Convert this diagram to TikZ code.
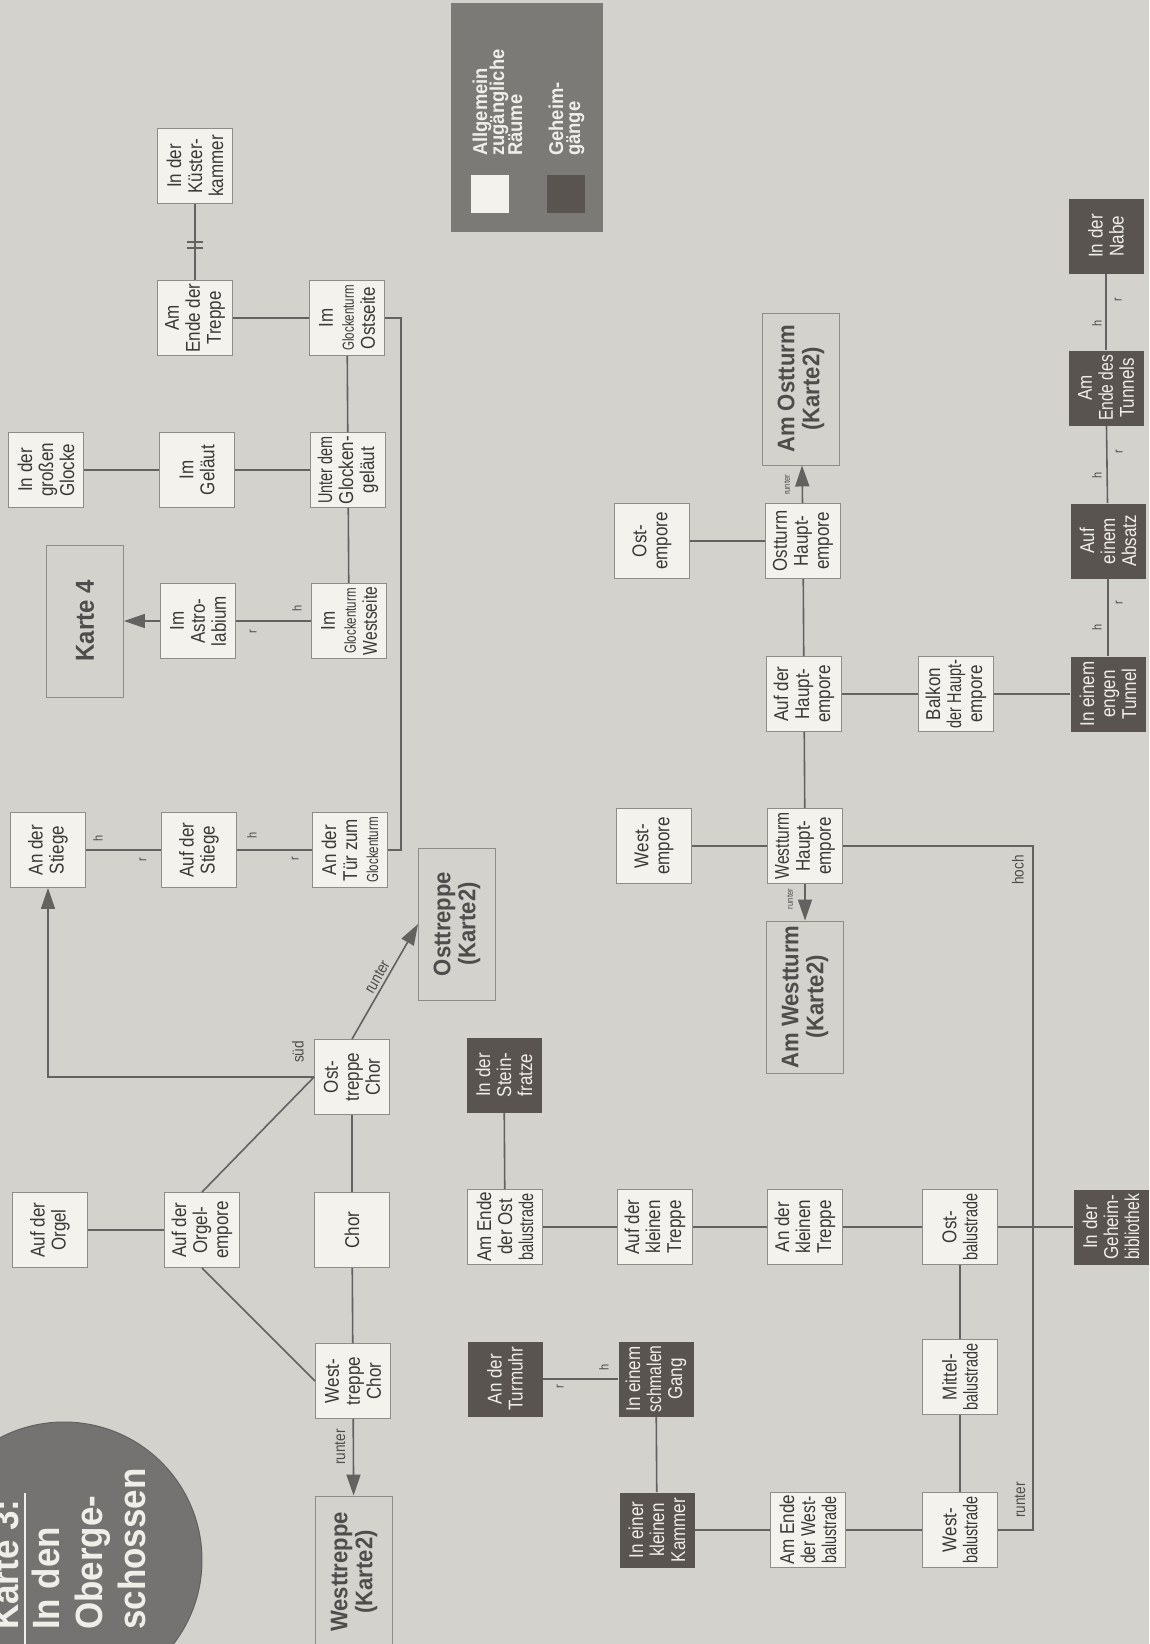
\documentclass[tikz,border=0pt]{standalone}
\usepackage{fontspec}
\setmainfont{Liberation Sans}[FakeStretch=0.85]
\newfontfamily\sqz{Liberation Sans}[FakeStretch=0.72]
\newfontfamily\sqa{Liberation Sans}[FakeStretch=0.78]
\newfontfamily\bld{Liberation Sans}[FakeStretch=0.92]
\usetikzlibrary{arrows.meta}
\definecolor{bg}{HTML}{D3D2CD}
\definecolor{boxfill}{HTML}{F4F2EC}
\definecolor{boxline}{HTML}{8E8D89}
\definecolor{darkfill}{HTML}{59544F}
\definecolor{darktext}{HTML}{F0EEE8}
\definecolor{conn}{HTML}{636261}
\definecolor{labtext}{HTML}{4E4D4B}
\definecolor{roomtext}{HTML}{3A3938}
\definecolor{legfill}{HTML}{7B7A77}
\definecolor{circfill}{HTML}{757371}
\tikzset{
 room/.style={draw=boxline, line width=0.9pt, fill=boxfill, rotate=90, minimum width=75pt, minimum height=75pt, inner sep=0pt, align=center, font=\fontsize{20}{21}\selectfont, text=roomtext},
 secret/.style={room, fill=darkfill, draw=none, text=darktext},
 mapref/.style={draw=boxline, line width=0.9pt, rotate=90, minimum width=152pt, minimum height=77pt, inner sep=0pt, align=center, font=\bld\bfseries\fontsize{24}{25}\selectfont, text=labtext},
 link/.style={draw=conn, line width=1.6pt},
 arr/.style={link, -{Triangle[length=21pt,width=14pt]}},
 hr/.style={rotate=90, font=\fontsize{13}{13}\selectfont, text=labtext, inner sep=0pt},
 lbl/.style={rotate=90, font=\fontsize{16}{16}\selectfont, text=labtext, inner sep=0pt},
 tiny/.style={rotate=90, font=\fontsize{9}{9}\selectfont, text=labtext, inner sep=0pt},
 titletxt/.style={rotate=90, anchor=base west, inner sep=0pt, font=\bld\bfseries\fontsize{38}{40}\selectfont, text=darktext},
 legtxt/.style={rotate=90, anchor=base west, inner sep=0pt, font=\bld\bfseries\fontsize{20}{18}\selectfont, text=darktext},
}
\newcommand{\gt}{{\sqz\fontsize{16}{14}\selectfont Glockenturm}}
\begin{document}
\begin{tikzpicture}[x=1pt,y=-1pt]
\useasboundingbox (0,0) rectangle (1149,1644);
\clip (0,0) rectangle (1149,1644);
\fill[bg] (0,0) rectangle (1149,1644);

% title circle
\filldraw[fill=circfill, draw=circfill!85!black, line width=1pt] (64,1560) circle (138pt);
\node[titletxt] (t1) at (18,1630) {Karte 3:};
\node[titletxt] (t2) at (59,1630) {In den};
\node[titletxt] (t3) at (102,1630) {Oberge-};
\node[titletxt] (t4) at (145,1630) {schossen};
\draw[darktext, line width=2.2pt] (25,1493) -- (25,1650);

% legend
\fill[legfill] (451,3) rectangle (603,232);
\fill[boxfill] (471,175) rectangle (509,213);
\fill[darkfill] (547,175) rectangle (585,213);
\node[legtxt] (l1) at (487,156) {Allgemein};
\node[legtxt] (l2) at (504,156) {zugängliche};
\node[legtxt] (l3) at (522,156) {Räume};
\node[legtxt] (l4) at (563,156) {Geheim-};
\node[legtxt] (l5) at (580,156) {gänge};

% rooms, left part
\node[room] (kuester) at (195,166) {In der\\Küster-\\kammer};
\node[room] (endetreppe) at (195,318) {Am\\Ende der\\Treppe};
\node[room] (ostseite) at (347,318) {Im\\\gt\\Ostseite};
\node[room] (glocke) at (46,470) {In der\\großen\\Glocke};
\node[room] (gelaeut) at (197,470) {Im\\Geläut};
\node[room] (unterdem) at (348,470) {{\sqz Unter dem}\\Glocken-\\geläut};
\node[mapref, font=\bld\bfseries\fontsize{26}{27}\selectfont] (karte4) at (85,621) {Karte 4};
\node[room] (astro) at (198,621) {Im\\Astro-\\labium};
\node[room] (westseite) at (349,621) {Im\\\gt\\{\sqa Westseite}};
\node[room] (anstiege) at (48,850) {An der\\Stiege};
\node[room] (aufstiege) at (199,850) {Auf der\\Stiege};
\node[room] (antuer) at (350,850) {An der\\Tür zum\\\gt};
\node[mapref] (osttreppek) at (457,924) {Osttreppe\\(Karte2)};
\node[room] (osttreppechor) at (352,1077) {Ost-\\treppe\\Chor};
\node[room] (aufderorgel) at (50,1230) {Auf der\\Orgel};
\node[room] (orgelempore) at (202,1230) {Auf der\\Orgel-\\empore};
\node[room] (chor) at (352,1230) {Chor};
\node[room] (westtreppechor) at (353,1381) {West-\\treppe\\Chor};
\node[mapref] (westtreppek) at (354,1572) {Westtreppe\\(Karte2)};

% middle part
\node[secret] (steinfratze) at (504,1075) {In der\\Stein-\\fratze};
\node[room] (endeost) at (505,1227) {Am Ende\\der Ost\\{\sqz balustrade}};
\node[secret] (turmuhr) at (505,1379) {An der\\Turmuhr};
\node[secret] (schmal) at (656,1379) {In einem\\{\sqa schmalen}\\Gang};
\node[secret] (kammer) at (657,1530) {In einer\\kleinen\\Kammer};
\node[room] (kltreppe1) at (655,1227) {Auf der\\kleinen\\Treppe};
\node[room] (westempore) at (654,846) {West-\\empore};
\node[room] (ostempore) at (652,541) {Ost-\\empore};

% right part
\node[mapref] (ostturmk) at (801,389) {Am Ostturm\\(Karte2)};
\node[room] (ostturmhe) at (803,541) {Ostturm\\Haupt-\\empore};
\node[room] (aufhe) at (804,694) {Auf der\\Haupt-\\empore};
\node[room] (westturmhe) at (805,846) {{\sqa Westturm}\\Haupt-\\empore};
\node[mapref] (westturmk) at (805,997) {Am Westturm\\(Karte2)};
\node[room] (kltreppe2) at (805,1227) {An der\\kleinen\\Treppe};
\node[room] (endewest) at (808,1530) {Am Ende\\{\sqa der West-}\\{\sqz balustrade}};
\node[room] (balkon) at (956,694) {Balkon\\{\sqz der Haupt-}\\empore};
\node[room] (ostbal) at (960,1227) {Ost-\\{\sqz balustrade}};
\node[room] (mittelbal) at (960,1377) {Mittel-\\{\sqz balustrade}};
\node[room] (westbal) at (960,1530) {West-\\{\sqz balustrade}};
\node[secret] (tunnel) at (1108,694) {In einem\\engen\\Tunnel};
\node[secret] (absatz) at (1108,541) {Auf\\einem\\Absatz};
\node[secret] (endetunnel) at (1106,388) {Am\\{\sqa Ende des}\\Tunnels};
\node[secret] (nabe) at (1106,236) {In der\\Nabe};
\node[secret] (geheimbib) at (1111,1227) {In der\\Geheim-\\{\sqa bibliothek}};

% connectors, top-left
\draw[link] (kuester) -- (endetreppe);
\draw[conn, line width=1.4pt] (187,242) -- (203,242) (187,248) -- (203,248);
\draw[link] (endetreppe) -- (ostseite);
\draw[link] (ostseite) -- (unterdem);
\draw[link] (glocke) -- (gelaeut);
\draw[link] (gelaeut) -- (unterdem);
\draw[link] (unterdem) -- (westseite);
\draw[link] (westseite) -- (astro);
\draw[arr] (astro) -- (karte4);
\draw[link] (ostseite.south) -- ++(16,0) |- (antuer.south);
\draw[link] (anstiege) -- (aufstiege);
\draw[link] (aufstiege) -- (antuer);
\draw[arr] (osttreppechor.north) -| (anstiege.west);
\draw[link] (osttreppechor.north) -- (orgelempore.east);
\draw[arr] (osttreppechor.east) -- node[midway, sloped, above, inner sep=3pt, font=\fontsize{16}{16}\selectfont, text=labtext] {runter} (osttreppek.north);
\draw[link] (osttreppechor) -- (chor);
\draw[link] (chor) -- (westtreppechor);
\draw[link] (aufderorgel) -- (orgelempore);
\draw[link] (orgelempore.west) -- (westtreppechor.north);
\draw[arr] (westtreppechor) -- (westtreppek);

% connectors, middle
\draw[link] (steinfratze) -- (endeost);
\draw[link] (endeost) -- (kltreppe1);
\draw[link] (kltreppe1) -- (kltreppe2);
\draw[link] (kltreppe2) -- (ostbal);
\draw[link] (ostbal) -- (geheimbib);
\draw[link] (turmuhr) -- (schmal);
\draw[link] (schmal) -- (kammer);
\draw[link] (kammer) -- (endewest);
\draw[link] (endewest) -- (westbal);
\draw[link] (ostbal) -- (mittelbal);
\draw[link] (mittelbal) -- (westbal);
\draw[link] (westturmhe.south) -- ++(190,0) |- (westbal.south);
\draw[link] (westempore) -- (westturmhe);
\draw[arr] (westturmhe) -- (westturmk);
\draw[link] (westturmhe) -- (aufhe);
\draw[link] (aufhe) -- (ostturmhe);
\draw[arr] (ostturmhe) -- (ostturmk);
\draw[link] (ostempore) -- (ostturmhe);
\draw[link] (aufhe) -- (balkon);
\draw[link] (balkon) -- (tunnel);
\draw[link] (tunnel) -- (absatz);
\draw[link] (absatz) -- (endetunnel);
\draw[link] (endetunnel) -- (nabe);

% connector labels
\node[hr] (h1) at (1097,627) {h};
\node[hr] (r1) at (1119,603) {r};
\node[hr] (h2) at (1097,475) {h};
\node[hr] (r2) at (1119,452) {r};
\node[hr] (h3) at (1097,323) {h};
\node[hr] (r3) at (1118,300) {r};
\node[hr] (h4) at (98,838) {h};
\node[hr] (r4) at (143,860) {r};
\node[hr] (h5) at (252,835) {h};
\node[hr] (r5) at (295,859) {r};
\node[hr] (h6) at (297,608) {h};
\node[hr] (r6) at (253,632) {r};
\node[hr] (h7) at (604,1367) {h};
\node[hr] (r7) at (560,1387) {r};
\node[lbl] (sued) at (298,1052) {süd};
\node[lbl] (hoch) at (1018,870) {hoch};
\node[lbl] (runter1) at (1020,1500) {runter};
\node[lbl] (runter2) at (340,1447) {runter};
\node[tiny] (runter3) at (787,485) {runter};
\node[tiny] (runter4) at (790,899) {runter};
\end{tikzpicture}
\end{document}
